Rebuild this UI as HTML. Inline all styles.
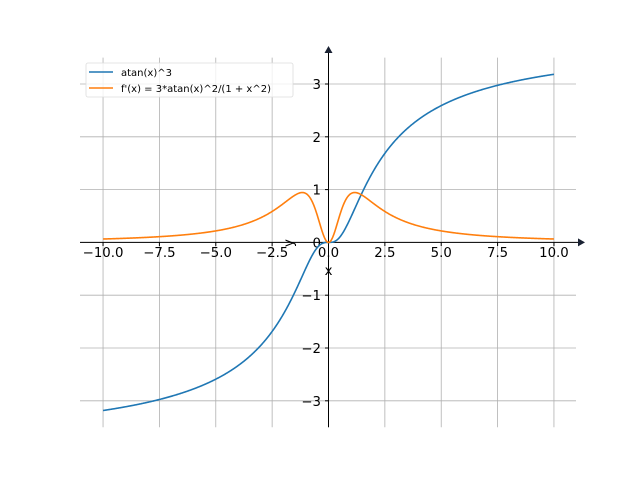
<!DOCTYPE html>
<html><head><style>body{margin:0;background:#fff}svg{display:block}text{font-family:"DejaVu Sans","Liberation Sans",sans-serif}</style></head>
<body>
<svg id="s" width="640" height="480" xmlns="http://www.w3.org/2000/svg">
<g id="grid" stroke="#b0b0b0" stroke-width="0.8"></g>
<g id="ticks" font-size="13.3" fill="#000"></g>
<line x1="80" y1="242.4" x2="580" y2="242.4" stroke="#000" stroke-width="1"/>
<line x1="328.5" y1="427.2" x2="328.5" y2="52" stroke="#000" stroke-width="1"/>
<path d="M578,238.4 L585,242.4 L578,246.4 Z" fill="#1a2233"/>
<path d="M324.5,53 L328.5,46 L332.5,53 Z" fill="#1a2233"/>
<path id="p1" fill="none" stroke="#1f77b4" stroke-width="1.6"/>
<path id="p2" fill="none" stroke="#ff7f0e" stroke-width="1.6"/>
<text x="328.5" y="275" font-size="13.3" text-anchor="middle">x</text>
<text x="0" y="0" font-size="13.3" text-anchor="middle" transform="translate(293,243) rotate(-90)">y</text>
<rect x="86" y="63" width="207" height="34" rx="2" fill="#fff" fill-opacity="0.8" stroke="#ddd" stroke-width="0.8"/>
<line x1="89" y1="72" x2="113" y2="72" stroke="#1f77b4" stroke-width="1.6"/>
<line x1="89" y1="88" x2="113" y2="88" stroke="#ff7f0e" stroke-width="1.6"/>
<text x="121" y="76" font-size="10">atan(x)^3</text>
<text x="121" y="92" font-size="10">f'(x) = 3*atan(x)^2/(1 + x^2)</text>
</svg>
<script>
var X=function(x){return 328.5+22.545*x},Y=function(y){return 242.4-52.8*y};
var g=document.getElementById('grid'),t=document.getElementById('ticks'),ns='http://www.w3.org/2000/svg';
function el(p,n,a,txt){var e=document.createElementNS(ns,n);for(var k in a)e.setAttribute(k,a[k]);if(txt!=null)e.textContent=txt;p.appendChild(e);}
function fm(s){return String(s).replace('-','\u2212');}
[-10,-7.5,-5,-2.5,0,2.5,5,7.5,10].forEach(function(v){var x=X(v);el(g,'line',{x1:x,x2:x,y1:57.6,y2:427.2});el(t,'line',{x1:x,x2:x,y1:242.4,y2:246,stroke:'#000'});el(t,'text',{x:x,y:257,'text-anchor':'middle'},fm(v.toFixed(1)));});
[-3,-2,-1,0,1,2,3].forEach(function(v){var y=Y(v);el(g,'line',{x1:80,x2:576,y1:y,y2:y});el(t,'line',{x1:325,x2:328.5,y1:y,y2:y,stroke:'#000'});el(t,'text',{x:321,y:y+5,'text-anchor':'end'},fm(v));});
var a='',b='';for(var i=0;i<=1000;i++){var x=-10+20*i/1000,at=Math.atan(x);a+=(i?'L':'M')+X(x).toFixed(2)+','+Y(at*at*at).toFixed(2);b+=(i?'L':'M')+X(x).toFixed(2)+','+Y(3*at*at/(1+x*x)).toFixed(2);}
document.getElementById('p1').setAttribute('d',a);document.getElementById('p2').setAttribute('d',b);
</script>
</body></html>
